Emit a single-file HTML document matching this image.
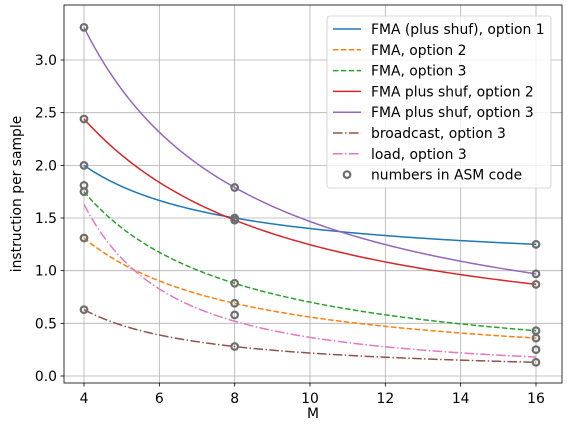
<!DOCTYPE html>
<html><head><meta charset="utf-8"><style>
body{margin:0;background:#fff}
svg text{font-family:"DejaVu Sans","Liberation Sans",sans-serif;fill:#000}
</style></head><body>
<svg id="chart" width="567" height="432" xmlns="http://www.w3.org/2000/svg"></svg>
<script>
const mValues=[4,8,16];
const seriesNames=["FMA (plus shuf), option 1","FMA, option 2","FMA, option 3","FMA plus shuf, option 2","FMA plus shuf, option 3","broadcast, option 3","load, option 3"];
const blueVals=[2.0,1.5,1.25];
const orangeVals=[1.31,0.69,0.36];
const greenVals=[1.75,0.88,0.43];
const redVals=[2.44,1.48,0.87];
const purpleVals=[3.31,1.79,0.97];
const brownVals=[0.63,0.28,0.13];
const pinkVals=[1.63,0.52,0.18];
const asmM=[4,4,4,4,4,4,4,8,8,8,8,8,8,8,16,16,16,16,16,16,16];
const asmVals=[3.31,2.44,2.0,1.81,1.75,1.31,0.63,1.79,1.5,1.48,0.88,0.69,0.58,0.28,1.25,0.97,0.87,0.43,0.36,0.25,0.13];
const xTicks=[4,6,8,10,12,14,16];
const yTicks=["0.0","0.5","1.0","1.5","2.0","2.5","3.0"];

const colors=["#1f77b4","#ff7f0e","#2ca02c","#d62728","#9467bd","#8c564b","#e377c2"];
const dashes=["","5.5,2.4","5.5,2.4","","","9.6,2.4,1.5,2.4","9.6,2.4,1.5,2.4"];
const allVals=[blueVals,orangeVals,greenVals,redVals,purpleVals,brownVals,pinkVals];
const L=64,R=562,T=5,B=383;
const FS=13.9;
const xs=m=>84+(m-4)*(452/12);
const ys=v=>376-v*105.33;
const svg=document.getElementById('chart');
const NS="http://www.w3.org/2000/svg";
function el(t,a,p){const e=document.createElementNS(NS,t);for(const k in a)e.setAttribute(k,a[k]);(p||svg).appendChild(e);return e;}

xTicks.forEach(t=>{
  const g=el('line',{x1:xs(t),x2:xs(t),y1:T,y2:B,stroke:'#b0b0b0','stroke-width':0.8});
  
  
  el('line',{x1:xs(t),x2:xs(t),y1:B,y2:B+3.5,stroke:'#000','stroke-width':0.8});
  const tx=el('text',{x:xs(t),y:B+20,'font-size':FS,'text-anchor':'middle'});tx.textContent=t;
  
  
});
yTicks.forEach(t=>{
  const v=parseFloat(t);
  const g=el('line',{x1:L,x2:R,y1:ys(v),y2:ys(v),stroke:'#b0b0b0','stroke-width':0.8});
  
  
  el('line',{x1:L-3.5,x2:L,y1:ys(v),y2:ys(v),stroke:'#000','stroke-width':0.8});
  const tx=el('text',{x:L-7,y:ys(v)+5,'font-size':FS,'text-anchor':'end'});tx.textContent=t;
  
  
});

function fitCurve(vals){
  const u=mValues.map(m=>1/m);
  return x=>{const w=1/x;let s=0;
    for(let i=0;i<3;i++){let l=1;for(let j=0;j<3;j++)if(j!==i)l*=(w-u[j])/(u[i]-u[j]);s+=vals[i]*l;}
    return s;};
}
allVals.forEach((vals,i)=>{
  const f=fitCurve(vals);let d="";
  for(let k=0;k<=120;k++){const m=4+12*k/120;d+=(k?"L":"M")+xs(m).toFixed(2)+","+ys(f(m)).toFixed(2);}
  const p=el('path',{d:d,fill:'none',stroke:colors[i],'stroke-width':1.5,'stroke-dasharray':dashes[i]});
  
  
});
asmVals.forEach((v,i)=>{
  const c=el('circle',{cx:xs(asmM[i]),cy:ys(v),r:3.3,fill:'none',stroke:'#6e6e6e','stroke-width':2.2});
  
  
});

const fr=el('rect',{x:L,y:T,width:R-L,height:B-T,fill:'none',stroke:'#000','stroke-width':0.8});


const xl=el('text',{x:(L+R)/2,y:418,'font-size':FS,'text-anchor':'middle'});xl.textContent='M';


const yl=el('text',{x:0,y:0,'font-size':FS,'text-anchor':'middle',transform:'translate(21,'+((T+B)/2)+') rotate(-90)'});yl.textContent='instruction per sample';



const lg=el('g',{});


el('rect',{x:327,y:16,width:224,height:172,rx:2.5,fill:'#fff','fill-opacity':0.8,stroke:'#ccc','stroke-width':0.8},lg);
const labels=seriesNames.concat(["numbers in ASM code"]);
labels.forEach((n,i)=>{
  const y=29+i*20.8;
  const g=el('g',{},lg);
  
  
  if(i<7) el('line',{x1:333,x2:361,y1:y,y2:y,stroke:colors[i],'stroke-width':1.5,'stroke-dasharray':dashes[i]},g);
  else el('circle',{cx:347,cy:y,r:3.3,fill:'none',stroke:'#6e6e6e','stroke-width':2.2},g);
  const t=el('text',{x:371,y:y+5,'font-size':FS},g);t.textContent=n;
});
</script>
</body></html>
